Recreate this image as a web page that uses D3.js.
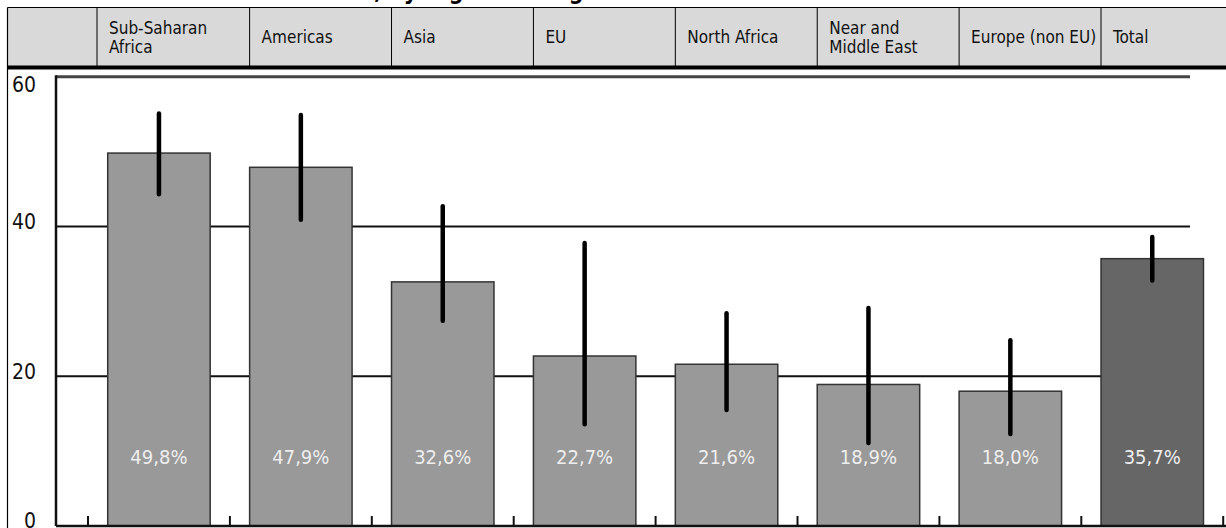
<!DOCTYPE html>
<html><head><meta charset="utf-8">
<script src="https://cdn.jsdelivr.net/npm/d3@7"></script>
<style>
html,body{margin:0;padding:0;background:#fff;}
svg{display:block;font-family:"Liberation Sans Narrow","DejaVu Sans Condensed",sans-serif;}
</style></head>
<body>
<svg id="c" width="1226" height="528"></svg>
<script>
const categories = ["Sub-Saharan Africa","Americas","Asia","EU","North Africa","Near and Middle East","Europe (non EU)","Total"];
const headerLines = [["Sub-Saharan","Africa"],["Americas"],["Asia"],["EU"],["North Africa"],["Near and","Middle East"],["Europe (non EU)"],["Total"]];
const values = [49.8,47.9,32.6,22.7,21.6,18.9,18.0,35.7];
const valueLabels = ["49,8%","47,9%","32,6%","22,7%","21,6%","18,9%","18,0%","35,7%"];
const errLow = [44.3,40.9,27.4,13.6,15.5,11.1,12.3,32.8];
const errHigh = [55.1,54.9,42.7,37.8,28.4,29.1,24.8,38.6];
const yTicks = [0,20,40,60];
const titleText = ", by region of origin";

const svg = d3.select("#c");
const W = 1226, H = 528;

const y = d3.scaleLinear().domain([0,60]).range([526,76.7]);
const x = d3.scaleBand().domain(categories).range([88,1223.2]).paddingInner(0.278).paddingOuter(0.139);
const axisX = 56, gridRight = 1190;

// title (cropped at top in the original)
svg.append("text").attr("x",374).attr("y",-1).attr("font-weight","bold").attr("font-size",23)
  .attr("fill","#000").text(titleText);

// header
const hTop = 7.5, hBot = 67.5;
const bounds = categories.map((c,i)=> i===0 ? 97 : x(c));
svg.append("rect").attr("x",7.5).attr("y",hTop).attr("width",W).attr("height",hBot-hTop).attr("fill","#d9d9d9");
svg.append("line").attr("x1",7.5).attr("x2",W).attr("y1",hTop).attr("y2",hTop).attr("stroke","#000").attr("stroke-width",1.2);
bounds.forEach(b=>{
  svg.append("line").attr("x1",b).attr("x2",b).attr("y1",hTop).attr("y2",hBot).attr("stroke","#000").attr("stroke-width",1);
});
headerLines.forEach((lines,i)=>{
  const t = svg.append("text").attr("x",bounds[i]+12).attr("font-size",17).attr("fill","#111");
  const cy = (hTop+hBot)/2;
  lines.forEach((l,j)=>{
    t.append("tspan").attr("x",bounds[i]+12)
     .attr("y", cy + (j-(lines.length-1)/2)*18.5).attr("dy","0.35em").text(l);
  });
});
svg.append("line").attr("x1",7.5).attr("x2",W).attr("y1",hBot).attr("y2",hBot).attr("stroke","#000").attr("stroke-width",4);
// left border
svg.append("line").attr("x1",7.5).attr("x2",7.5).attr("y1",hTop).attr("y2",H).attr("stroke","#000").attr("stroke-width",1.2);

// gridlines
yTicks.filter(v=>v>0).forEach(v=>{
  svg.append("line").attr("x1",axisX).attr("x2",gridRight).attr("y1",y(v)).attr("y2",y(v))
    .attr("stroke", v===60 ? "#444" : "#111").attr("stroke-width", v===60 ? 3 : 2);
});

// y labels
yTicks.forEach(v=>{
  svg.append("text").attr("x",36).attr("y",Math.max(y(v)-5,85)).attr("dy","0.35em")
    .attr("text-anchor","end").attr("font-size",21).attr("fill","#111").text(v);
});

// bars
svg.selectAll("rect.bar").data(categories).join("rect").attr("class","bar")
  .attr("x",d=>x(d)).attr("width",x.bandwidth())
  .attr("y",(d,i)=>y(values[i])).attr("height",(d,i)=>y(0)-y(values[i]))
  .attr("fill",(d,i)=> d==="Total" ? "#666666" : "#999999")
  .attr("stroke","#333").attr("stroke-width",1.5);

// error bars
svg.selectAll("line.err").data(categories).join("line").attr("class","err")
  .attr("x1",d=>x(d)+x.bandwidth()/2).attr("x2",d=>x(d)+x.bandwidth()/2)
  .attr("y1",(d,i)=>y(errHigh[i])).attr("y2",(d,i)=>y(errLow[i]))
  .attr("stroke","#000").attr("stroke-width",4.5).attr("stroke-linecap","round");

// value labels
svg.selectAll("text.val").data(categories).join("text").attr("class","val")
  .attr("x",d=>x(d)+x.bandwidth()/2).attr("y",457).attr("dy","0.35em")
  .attr("text-anchor","middle").attr("font-size",20).attr("fill","#eeeeee")
  .text((d,i)=>valueLabels[i]);

// axes lines
svg.append("line").attr("x1",axisX).attr("x2",axisX).attr("y1",y(60)-1.5).attr("y2",y(0)).attr("stroke","#111").attr("stroke-width",2.5);
svg.append("line").attr("x1",axisX).attr("x2",W).attr("y1",y(0)).attr("y2",y(0)).attr("stroke","#111").attr("stroke-width",2.5);
// ticks at band boundaries
const half = x.step()*x.paddingInner()/2;
const tickXs = categories.map(c=>x(c)-half).concat([x(categories[categories.length-1])+x.bandwidth()+half]);
svg.selectAll("line.tick").data(tickXs).join("line").attr("class","tick")
  .attr("x1",d=>d).attr("x2",d=>d).attr("y1",y(0)).attr("y2",y(0)-10)
  .attr("stroke","#111").attr("stroke-width",2);
</script>
</body></html>
